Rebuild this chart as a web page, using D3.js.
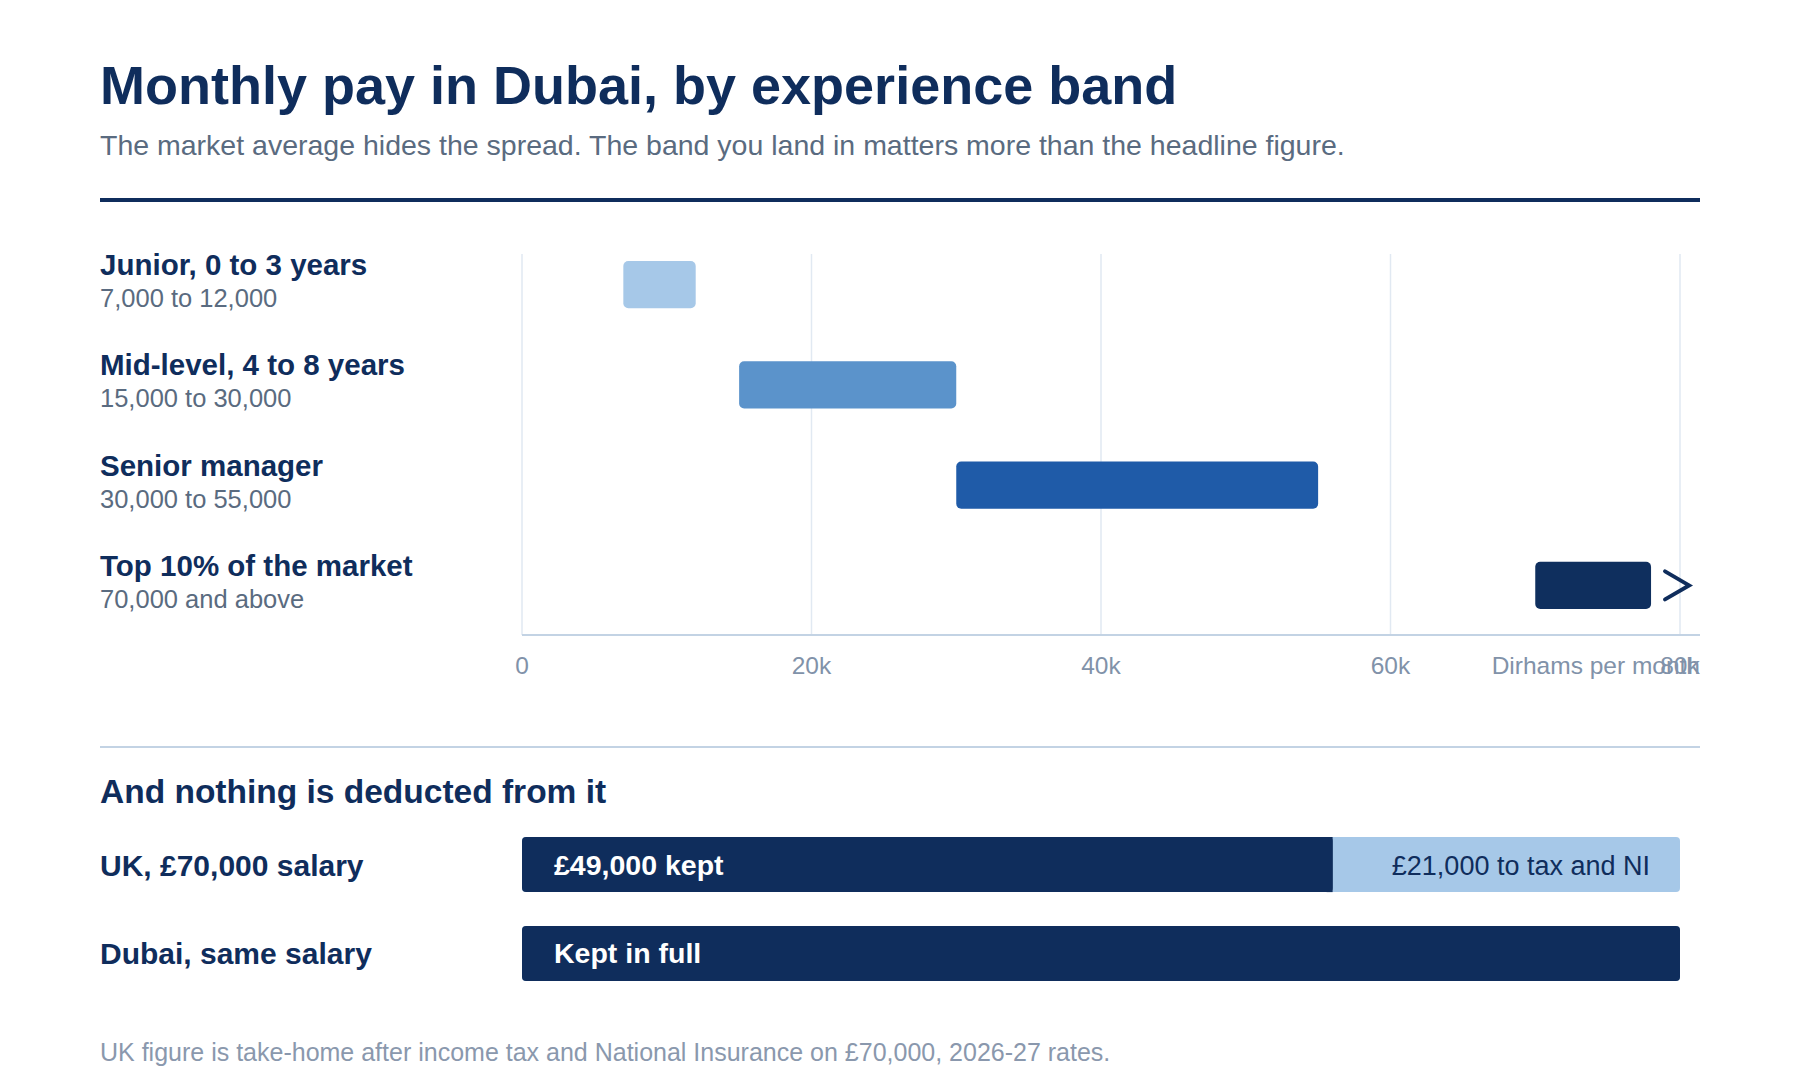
<!DOCTYPE html>
<html><head><meta charset="utf-8">
<script src="https://cdn.jsdelivr.net/npm/d3@7"></script>
<style>body{margin:0;background:#fff;font-family:"Liberation Sans",Arial,sans-serif;}</style>
</head><body><svg id="c" width="1800" height="1090"></svg>
<script>
// experience bands (AED per month)
const bands = ["Junior, 0 to 3 years", "Mid-level, 4 to 8 years", "Senior manager", "Top 10% of the market"];
const bandNotes = ["7,000 to 12,000", "15,000 to 30,000", "30,000 to 55,000", "70,000 and above"];
const lows = [7000, 15000, 30000, 70000];
const highs = [12000, 30000, 55000, 78000];
const bandColors = ["#a6c8e8", "#5b93cb", "#1f5ba8", "#0f2f5e"];
const ticks = [0, 20000, 40000, 60000, 80000];
const tickLabels = ["0", "20k", "40k", "60k", "80k"];

// comparison
const places = ["UK, £70,000 salary", "Dubai, same salary"];
const kept = [49000, 70000];
const taxed = [21000, 0];
const keptLabels = ["£49,000 kept", "Kept in full"];
const taxLabels = ["£21,000 to tax and NI", ""];

const navy = "#0f2d5c";
const svg = d3.select("#c");

svg.append("text").attr("x", 100).attr("y", 104).attr("font-size", 54).attr("font-weight", 700)
  .attr("fill", navy).text("Monthly pay in Dubai, by experience band");
svg.append("text").attr("x", 100).attr("y", 155).attr("font-size", 28.5).attr("fill", "#5a6b80")
  .text("The market average hides the spread. The band you land in matters more than the headline figure.");
svg.append("rect").attr("x", 100).attr("y", 198).attr("width", 1600).attr("height", 4).attr("fill", navy);

// range chart
const x = d3.scaleLinear().domain([0, 80000]).range([522, 1680]);
const y = d3.scaleBand().domain(bands).range([235, 635]).paddingInner(0.53).paddingOuter(0.26);

svg.append("g").selectAll("line").data(ticks).join("line")
  .attr("x1", d => x(d)).attr("x2", d => x(d)).attr("y1", 254).attr("y2", 635)
  .attr("stroke", "#e1e9f2").attr("stroke-width", 1.5);
svg.append("line").attr("x1", 522).attr("x2", 1700).attr("y1", 635).attr("y2", 635)
  .attr("stroke", "#c3d3e4").attr("stroke-width", 2);
svg.append("g").selectAll("text").data(ticks).join("text")
  .attr("x", d => x(d)).attr("y", 674).attr("text-anchor", "middle").attr("font-size", 24.5)
  .attr("fill", "#8192a9").text((d, i) => tickLabels[i]);
svg.append("text").attr("x", 1700).attr("y", 674).attr("text-anchor", "end").attr("font-size", 24.5)
  .attr("fill", "#8192a9").text("Dirhams per month");

svg.append("g").selectAll("rect").data(bands).join("rect")
  .attr("x", (d, i) => x(lows[i])).attr("width", (d, i) => x(highs[i]) - x(lows[i]))
  .attr("y", d => y(d)).attr("height", y.bandwidth()).attr("rx", 5)
  .attr("fill", (d, i) => bandColors[i]);
const cy = y(bands[3]) + y.bandwidth() / 2;
const cx = x(highs[3]) + 14;
svg.append("path").attr("d", `M${cx},${cy - 14}L${cx + 24},${cy}L${cx},${cy + 14}`)
  .attr("fill", "none").attr("stroke", navy).attr("stroke-width", 4).attr("stroke-linecap", "round");

const lab = svg.append("g").selectAll("g").data(bands).join("g");
lab.append("text").attr("x", 100).attr("y", d => y(d) + 14).attr("font-size", 29.5).attr("font-weight", 700)
  .attr("fill", navy).text(d => d);
lab.append("text").attr("x", 100).attr("y", d => y(d) + 46).attr("font-size", 25.5)
  .attr("fill", "#5a6b80").text((d, i) => bandNotes[i]);

// second panel
svg.append("line").attr("x1", 100).attr("x2", 1700).attr("y1", 747).attr("y2", 747)
  .attr("stroke", "#c3d3e4").attr("stroke-width", 2);
svg.append("text").attr("x", 100).attr("y", 803).attr("font-size", 33.5).attr("font-weight", 700)
  .attr("fill", navy).text("And nothing is deducted from it");

const x2 = d3.scaleLinear().domain([0, 70000]).range([522, 1680]);
const y2 = d3.scaleBand().domain(places).range([837, 981]).paddingInner(0.38);
const row = svg.append("g").selectAll("g").data(places).join("g");
row.append("rect").attr("x", x2(0)).attr("y", d => y2(d)).attr("height", y2.bandwidth())
  .attr("width", (d, i) => x2(kept[i] + taxed[i]) - x2(0)).attr("rx", 4).attr("fill", "#a6c8e8");
row.append("rect").attr("x", x2(0)).attr("y", d => y2(d)).attr("height", y2.bandwidth())
  .attr("width", (d, i) => x2(kept[i]) - x2(0)).attr("rx", 4).attr("fill", navy);
row.filter((d, i) => kept[i] < 70000).append("rect").attr("x", (d, i) => x2(kept[i]) - 6)
  .attr("y", d => y2(d)).attr("height", y2.bandwidth()).attr("width", 6).attr("fill", navy);
row.append("text").attr("x", 100).attr("y", d => y2(d) + y2.bandwidth() / 2 + 11)
  .attr("font-size", 30).attr("font-weight", 700).attr("fill", navy).text(d => d);
row.append("text").attr("x", x2(0) + 32).attr("y", d => y2(d) + y2.bandwidth() / 2 + 10)
  .attr("font-size", 28.5).attr("font-weight", 700).attr("fill", "#fff").text((d, i) => keptLabels[i]);
row.append("text").attr("x", x2(70000) - 30).attr("y", d => y2(d) + y2.bandwidth() / 2 + 10)
  .attr("text-anchor", "end").attr("font-size", 27).attr("fill", navy).text((d, i) => taxLabels[i]);

svg.append("text").attr("x", 100).attr("y", 1061).attr("font-size", 25).attr("fill", "#8a98ad")
  .text("UK figure is take-home after income tax and National Insurance on £70,000, 2026-27 rates.");
</script></body></html>
